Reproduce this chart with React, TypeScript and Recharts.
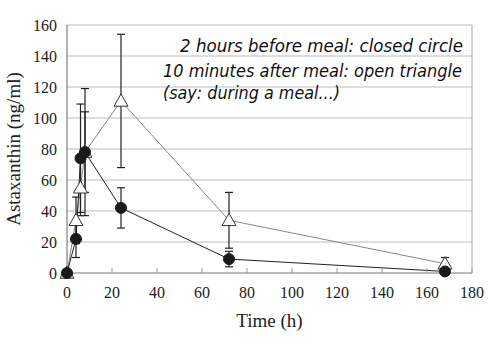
import React from "react";
import {
  ComposedChart,
  Line,
  XAxis,
  YAxis,
  CartesianGrid,
  ErrorBar,
  ReferenceLine,
  Label,
} from "recharts";

// sampling times (h)
const times = [0, 4, 6, 8, 24, 72, 168];

// 2 hours before meal (closed circle)
const beforeMeal = [0, 22, 74, 78, 42, 9, 1];
const beforeMealErr = [0, 12, 35, 26, 13, 5, 1];

// 10 minutes after meal (open triangle)
const afterMeal = [0, 34, 55, 78, 111, 34, 6];
const afterMealErr = [0, 15, 18, 41, 43, 18, 4];

const xTicks = [0, 20, 40, 60, 80, 100, 120, 140, 160, 180];
const yTicks = [0, 20, 40, 60, 80, 100, 120, 140, 160];

const notes = [
  "2 hours before meal: closed circle",
  "10 minutes after meal: open triangle",
  "(say: during a meal...)",
];

const data = times.map((t, i) => ({
  t,
  before: beforeMeal[i],
  beforeErr: beforeMealErr[i],
  after: afterMeal[i],
  afterErr: afterMealErr[i],
}));

const serif = "'Liberation Serif', 'Times New Roman', serif";
const tickStyle = { fontFamily: serif, fontSize: 16, fill: "#222" };

const XTick = (props: any) => {
  const { x, y, payload } = props;
  return (
    <text x={x} y={y + 30} textAnchor="middle" style={tickStyle}>
      {payload.value}
    </text>
  );
};

const YTick = (props: any) => {
  const { x, y, payload } = props;
  return (
    <text x={x} y={y + 6} textAnchor="end" style={tickStyle}>
      {payload.value}
    </text>
  );
};

const Triangle = (props: any) => {
  const { cx, cy, index } = props;
  if (cx == null || cy == null) return <g key={`tri-${index}`} />;
  const s = 7;
  return (
    <polygon
      key={`tri-${index}`}
      points={`${cx},${cy - s} ${cx - s},${cy + s * 0.75} ${cx + s},${cy + s * 0.75}`}
      fill="#fff"
      stroke="#333"
      strokeWidth={1}
    />
  );
};

const App = () => {
  return (
    <div
      style={{
        position: "absolute",
        left: 0,
        top: 0,
        width: 490,
        height: 344,
        background: "#fff",
      }}
    >
      <ComposedChart
        width={490}
        height={344}
        data={data}
        margin={{ top: 25, right: 18, bottom: 0, left: 0 }}
      >
        <CartesianGrid vertical={false} stroke="#bbb" />
        <ReferenceLine x={180} stroke="#aaa" />
        <XAxis
          dataKey="t"
          type="number"
          domain={[0, 180]}
          ticks={xTicks}
          height={71}
          stroke="#999"
          tickSize={-5}
          tickMargin={0}
          tick={<XTick />}
        >
          <Label
            value="Time (h)"
            position="insideBottom"
            offset={17}
            style={{ fill: "#222", fontFamily: serif, fontSize: 19 }}
          />
        </XAxis>
        <YAxis
          type="number"
          domain={[0, 160]}
          ticks={yTicks}
          width={67}
          stroke="#666"
          tickLine={false}
          tickMargin={4}
          tick={<YTick />}
        >
          <Label
            value="Astaxanthin (ng/ml)"
            angle={-90}
            position="insideLeft"
            offset={13}
            style={{ fill: "#222", fontFamily: serif, fontSize: 19, textAnchor: "middle" }}
          />
        </YAxis>
        <Line
          dataKey="after"
          stroke="#888"
          strokeWidth={1}
          dot={Triangle}
          isAnimationActive={false}
        >
          <ErrorBar dataKey="afterErr" width={4} stroke="#222" strokeWidth={1.2} direction="y" />
        </Line>
        <Line
          dataKey="before"
          stroke="#222"
          strokeWidth={1}
          dot={{ r: 5.5, fill: "#1a1a1a", stroke: "#1a1a1a" }}
          isAnimationActive={false}
        >
          <ErrorBar dataKey="beforeErr" width={4} stroke="#222" strokeWidth={1.2} direction="y" />
        </Line>
      </ComposedChart>
      <svg
        width={490}
        height={344}
        style={{ position: "absolute", left: 0, top: 0, pointerEvents: "none" }}
      >
        <g fontFamily="DejaVu Sans, sans-serif" fontStyle="italic" fontSize={17} fill="#111">
          <text x={180} y={52} textLength={283} lengthAdjust="spacingAndGlyphs">
            {notes[0]}
          </text>
          <text x={163} y={77} textLength={299} lengthAdjust="spacingAndGlyphs">
            {notes[1]}
          </text>
          <text x={163} y={99} textLength={177} lengthAdjust="spacingAndGlyphs">
            {notes[2]}
          </text>
        </g>
      </svg>
    </div>
  );
};

export default App;
